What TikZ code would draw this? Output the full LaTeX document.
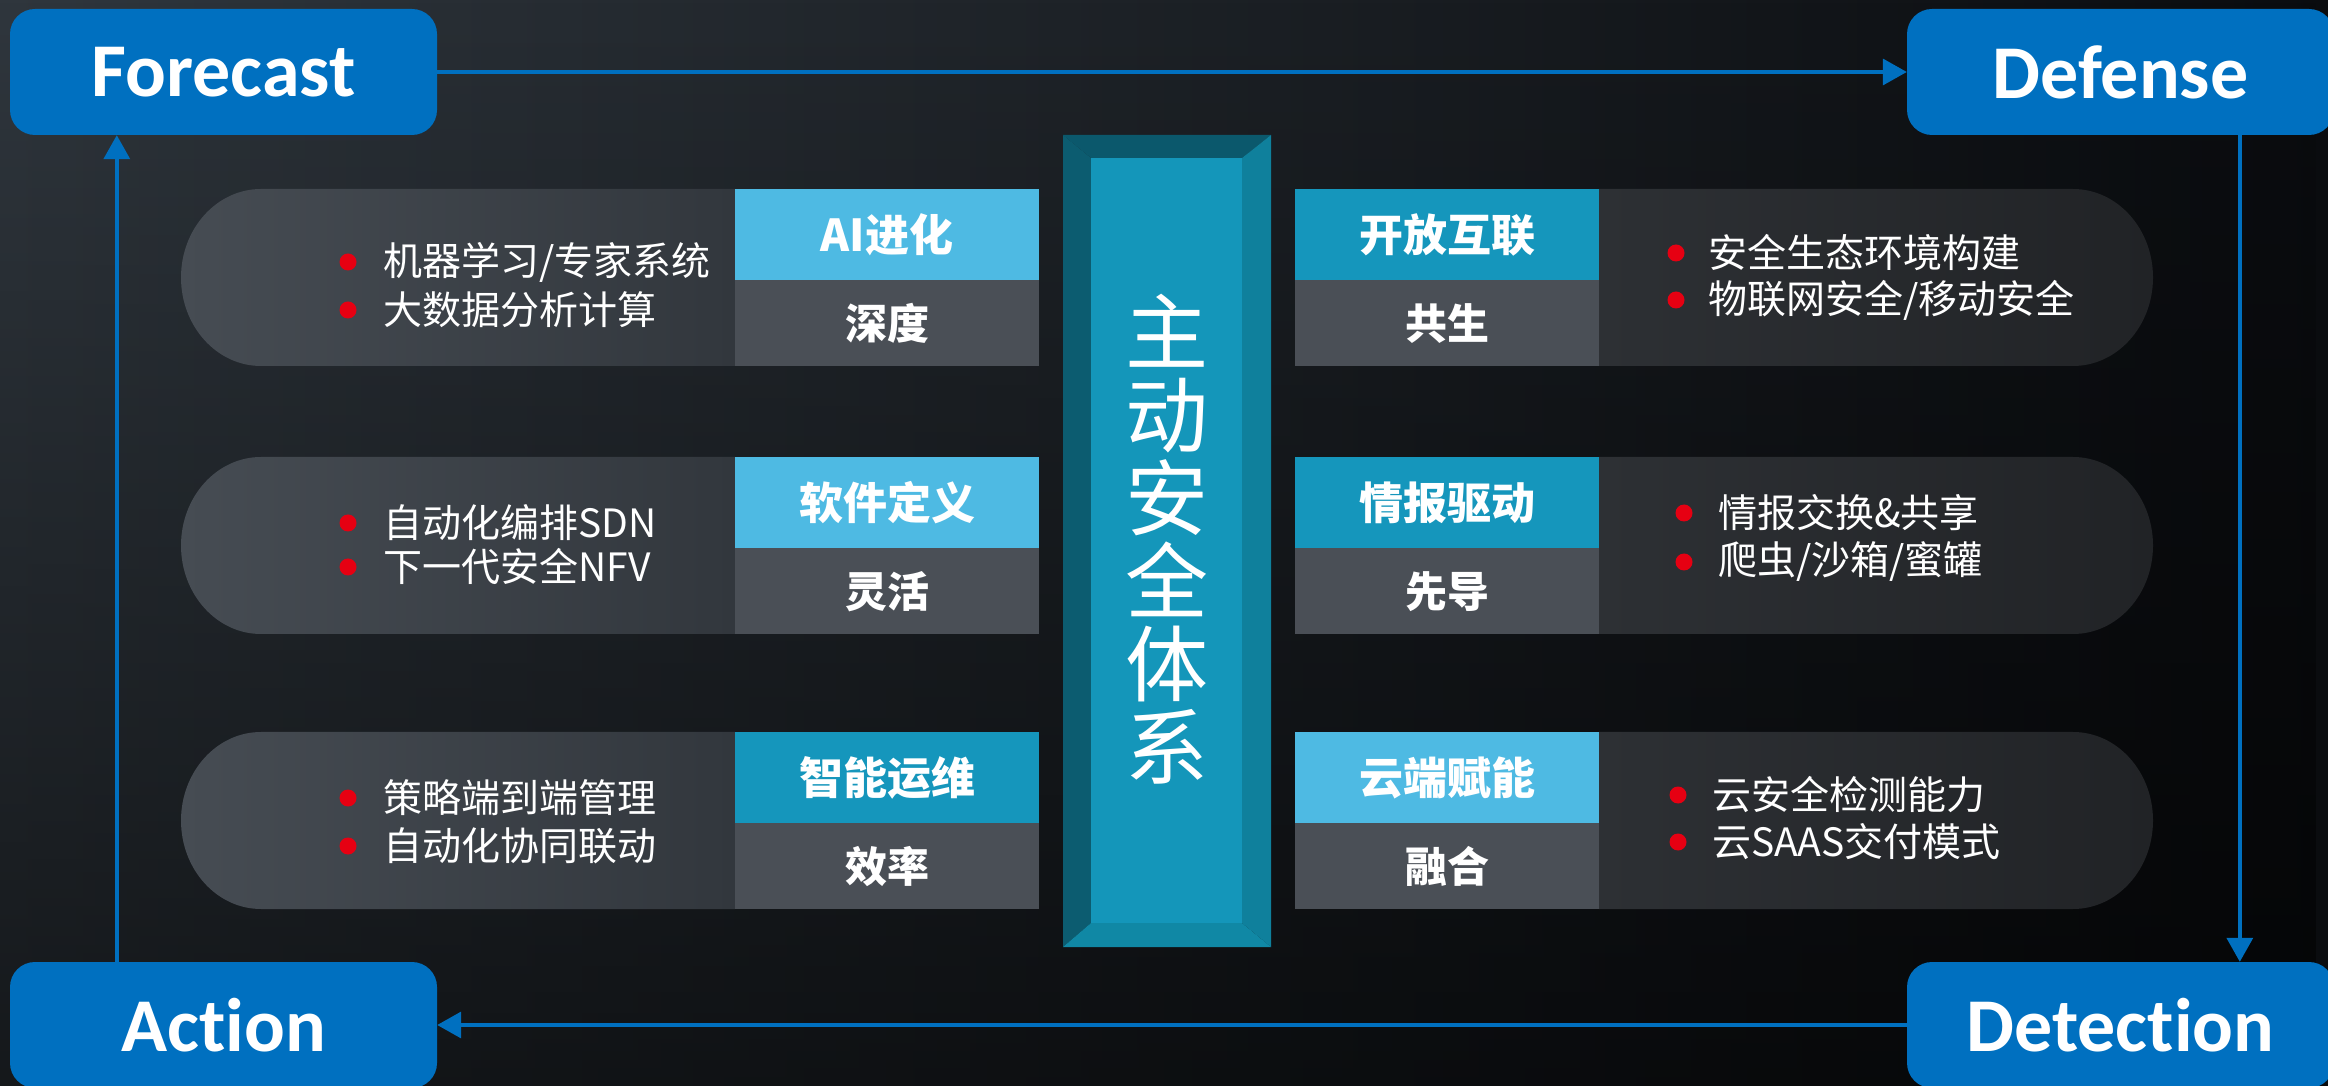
\documentclass[tikz,border=0pt]{standalone}
\usepackage{fontspec}
\usetikzlibrary{arrows.meta,positioning,fadings}
\newfontfamily\cjk{Noto Sans CJK SC}
\newfontfamily\lab[Ligatures={NoCommon}]{Carlito}
\definecolor{bgleft}{RGB}{47,54,61}
\definecolor{bgright}{RGB}{10,12,15}
\definecolor{boxblue}{RGB}{0,112,192}
\definecolor{tablight}{RGB}{78,186,227}
\definecolor{tabteal}{RGB}{21,150,188}
\definecolor{tabgrey}{RGB}{74,79,86}
\definecolor{pillA}{RGB}{70,76,83}
\definecolor{pillB}{RGB}{50,55,61}
\definecolor{pillC}{RGB}{45,48,52}
\definecolor{pillD}{RGB}{33,35,38}
\definecolor{dotred}{RGB}{230,0,18}
\definecolor{bevtop}{RGB}{11,88,108}
\definecolor{bevleft}{RGB}{12,92,112}
\definecolor{bevright}{RGB}{15,128,156}
\definecolor{bevbot}{RGB}{16,136,165}
\definecolor{bevface}{RGB}{20,150,186}

\begin{document}
\begin{tikzpicture}[x=1pt,y=1pt,
  phase/.style={fill=boxblue,rounded corners=25pt,minimum width=427pt,minimum height=126pt,inner sep=0pt,text=white,font=\lab\bfseries\fontsize{76}{76}\selectfont},
  flow/.style={draw=boxblue,line width=3.5pt,-{Triangle[width=26pt,length=24pt]}},
  tabhead/.style={minimum width=304pt,minimum height=91pt,inner sep=0pt,text=white,font=\cjk\bfseries\fontsize{44}{44}\selectfont},
  tabfoot/.style={fill=tabgrey,minimum width=304pt,minimum height=86pt,inner sep=0pt,text=white,font=\cjk\bfseries\fontsize{42}{42}\selectfont},
  item/.style={anchor=west,inner sep=0pt,text=white,font=\cjk\fontsize{39}{39}\selectfont}]

\useasboundingbox (0,0) rectangle (2328,1085);
\clip (0,0) rectangle (2328,1085);
% background
\shade[left color=bgleft,right color=bgright] (0,0) rectangle (2328,1085);
\fill[black,opacity=0.55,path fading=north] (0,0) rectangle (2328,1085);

% left pills
\shade[left color=pillA,right color=pillB] (735,896) -- (261,896) arc[start angle=90,end angle=270,x radius=80pt,y radius=88.5pt] -- (735,719) -- cycle;
\shade[left color=pillA,right color=pillB] (735,628) -- (261,628) arc[start angle=90,end angle=270,x radius=80pt,y radius=88.5pt] -- (735,451) -- cycle;
\shade[left color=pillA,right color=pillB] (735,353) -- (261,353) arc[start angle=90,end angle=270,x radius=80pt,y radius=88.5pt] -- (735,176) -- cycle;
% right pills
\shade[left color=pillC,right color=pillD] (1599,896) -- (2073,896) arc[start angle=90,end angle=-90,x radius=80pt,y radius=88.5pt] -- (1599,719) -- cycle;
\shade[left color=pillC,right color=pillD] (1599,628) -- (2073,628) arc[start angle=90,end angle=-90,x radius=80pt,y radius=88.5pt] -- (1599,451) -- cycle;
\shade[left color=pillC,right color=pillD] (1599,353) -- (2073,353) arc[start angle=90,end angle=-90,x radius=80pt,y radius=88.5pt] -- (1599,176) -- cycle;

% tabs
\node[tabhead,fill=tablight] (aiHead) at (887,850.5) {AI进化};
\node[tabfoot,below=0pt of aiHead] (aiFoot) {深度};
\node[tabhead,fill=tablight] (sdHead) at (887,582.5) {软件定义};
\node[tabfoot,below=0pt of sdHead] (sdFoot) {灵活};
\node[tabhead,fill=tabteal] (opHead) at (887,307.5) {智能运维};
\node[tabfoot,below=0pt of opHead] (opFoot) {效率};
\node[tabhead,fill=tabteal] (kfHead) at (1447,850.5) {开放互联};
\node[tabfoot,below=0pt of kfHead] (kfFoot) {共生};
\node[tabhead,fill=tabteal] (qbHead) at (1447,582.5) {情报驱动};
\node[tabfoot,below=0pt of qbHead] (qbFoot) {先导};
\node[tabhead,fill=tablight] (ydHead) at (1447,307.5) {云端赋能};
\node[tabfoot,below=0pt of ydHead] (ydFoot) {融合};

% bullet lines
\fill[dotred] (348,823) circle (8.5pt);
\node[item] (aiA) at (383,823) {机器学习/专家系统};
\fill[dotred] (348,775) circle (8.5pt);
\node[item] (aiB) at (383,775) {大数据分析计算};
\fill[dotred] (348,562) circle (8.5pt);
\node[item] (sdA) at (383,562) {自动化编排SDN};
\fill[dotred] (348,518) circle (8.5pt);
\node[item] (sdB) at (383,518) {下一代安全NFV};
\fill[dotred] (348,287) circle (8.5pt);
\node[item] (opA) at (383,287) {策略端到端管理};
\fill[dotred] (348,239) circle (8.5pt);
\node[item] (opB) at (383,239) {自动化协同联动};
\fill[dotred] (1676,832) circle (8.5pt);
\node[item] (kfA) at (1708,832) {安全生态环境构建};
\fill[dotred] (1676,785) circle (8.5pt);
\node[item] (kfB) at (1708,785) {物联网安全/移动安全};
\fill[dotred] (1684,572) circle (8.5pt);
\node[item] (qbA) at (1718,572) {情报交换\&共享};
\fill[dotred] (1684,523) circle (8.5pt);
\node[item] (qbB) at (1718,523) {爬虫/沙箱/蜜罐};
\fill[dotred] (1678,290) circle (8.5pt);
\node[item] (ydA) at (1712,290) {云安全检测能力};
\fill[dotred] (1678,243) circle (8.5pt);
\node[item] (ydB) at (1712,243) {云SAAS交付模式};

% centre column
\fill[bevtop] (1063,950) -- (1271,950) -- (1242,927) -- (1091,927) -- cycle;
\fill[bevleft] (1063,138) -- (1063,950) -- (1091,927) -- (1091,162) -- cycle;
\fill[bevright] (1271,138) -- (1271,950) -- (1242,927) -- (1242,162) -- cycle;
\fill[bevbot] (1063,138) -- (1271,138) -- (1242,162) -- (1091,162) -- cycle;
\fill[bevface] (1091,162) rectangle (1242,927);
\node[align=center,inner sep=0pt,text=white,font=\cjk\fontsize{83}{83}\selectfont] (core) at (1167,546) {主\\动\\安\\全\\体\\系};

% cycle
\node[phase] (fc) at (223.5,1013) {Forecast};
\node[phase] (df) at (2120.5,1013) {Defense};
\node[phase] (dt) at (2120.5,60) {Detection};
\node[phase] (ac) at (223.5,60) {Action};
\draw[flow] (fc.east) -- (df.west);
\draw[flow] ([xshift=333pt]df.south west) -- ([xshift=333pt]dt.north west);
\draw[flow] (dt.west) -- (ac.east);
\draw[flow] ([xshift=107pt]ac.north west) -- ([xshift=107pt]fc.south west);
\end{tikzpicture}
\end{document}
